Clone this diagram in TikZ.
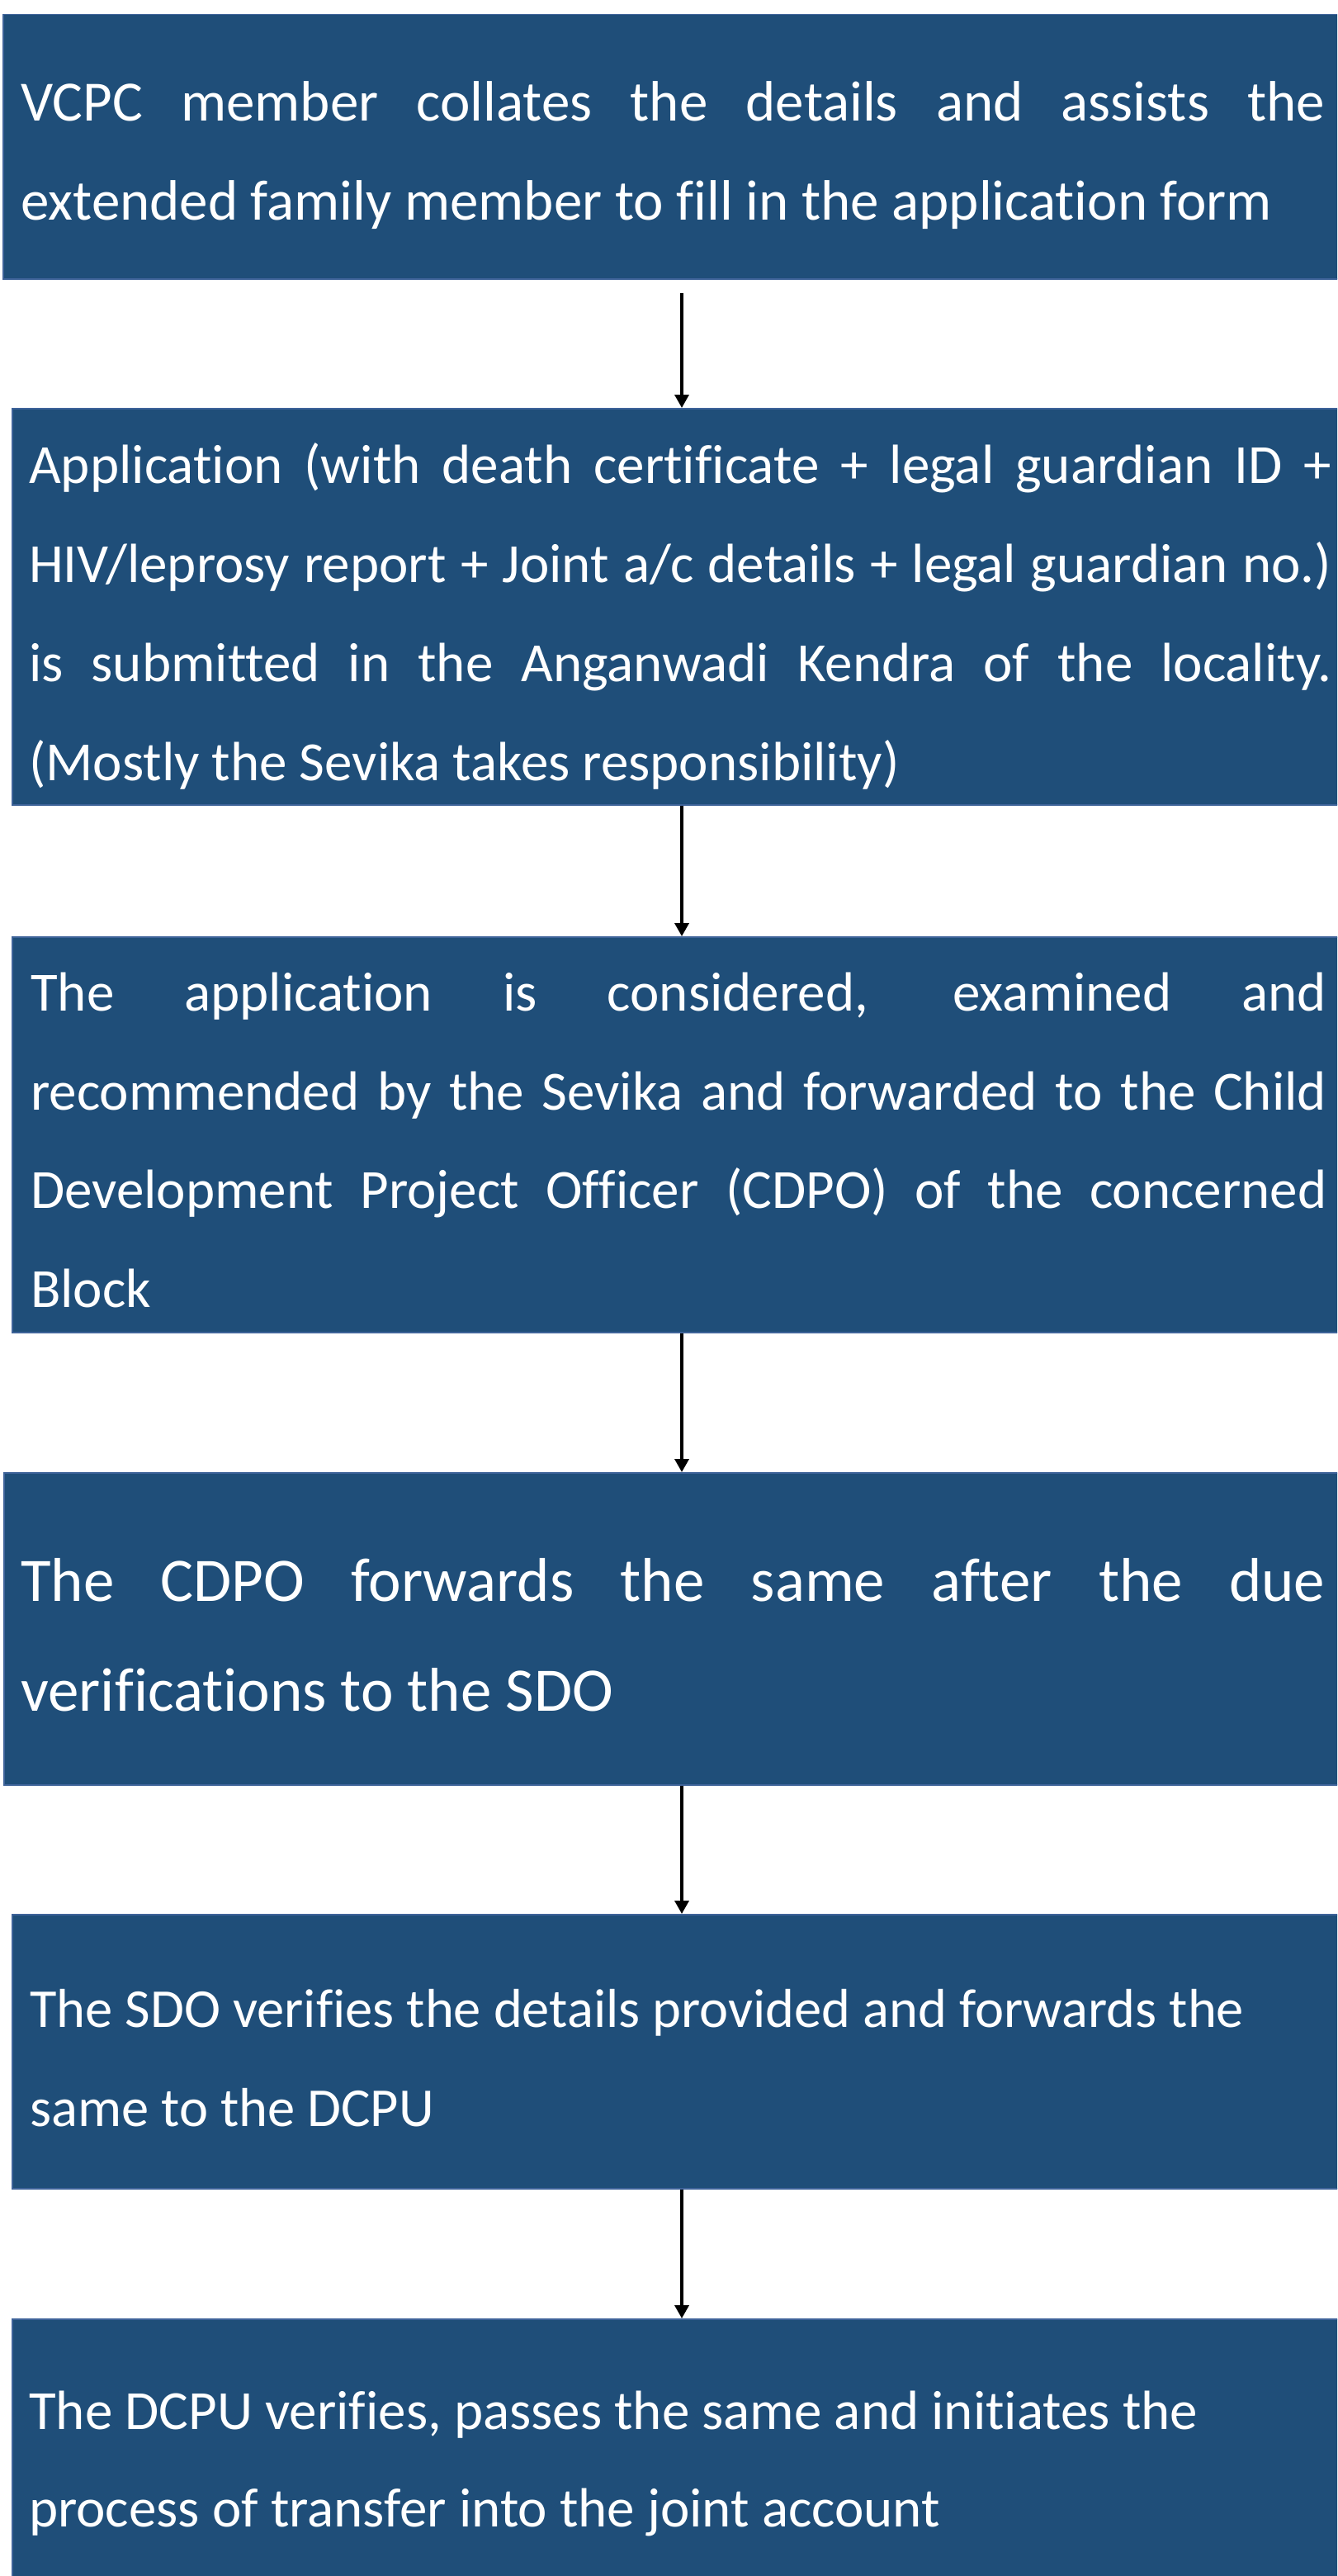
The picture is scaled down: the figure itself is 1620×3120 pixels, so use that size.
\documentclass[tikz,border=0pt]{standalone}
\usepackage{fontspec}
\setmainfont{Carlito}[Ligatures=NoCommon]
\usetikzlibrary{arrows.meta}

\definecolor{boxblue}{HTML}{1F4E79}
\definecolor{boxedge}{HTML}{3E6399}

\tikzset{
  stepbox/.style={rectangle, fill=boxblue, draw=boxedge, line width=1.5pt,
    inner sep=0pt, anchor=north west},
  steptext/.style={text=white, inner sep=0pt, anchor=base west, align=left,
    font=\fontsize{68}{120}\selectfont},
  bigtext/.style={steptext, font=\fontsize{75}{133}\selectfont},
  flow/.style={line width=3.5pt, -{Triangle[length=16pt,width=17pt]}}
}

% one justified line of a given width
\newcommand{\jline}[2][1580pt]{\makebox[#1][s]{#2}}

\begin{document}
\begin{tikzpicture}[x=1pt,y=-1pt]
\clip (0,0) rectangle (1620,3120);
\fill[white] (0,0) rectangle (1620,3120);

% boxes
\node[stepbox, minimum width=1622pt, minimum height=320pt] (b1) at (3,17) {};
\node[stepbox, minimum width=1622pt, minimum height=480pt] (b2) at (14,494) {};
\node[stepbox, minimum width=1622pt, minimum height=479pt] (b3) at (14,1134) {};
\node[stepbox, minimum width=1632pt, minimum height=378pt] (b4) at (4,1783) {};
\node[stepbox, minimum width=1622pt, minimum height=332pt] (b5) at (14,2318) {};
\node[stepbox, minimum width=1622pt, minimum height=340pt] (b6) at (14,2808) {};

% texts (each node sits on the baseline of its last line)
\node[steptext, font=\fontsize{69}{120}\selectfont] (t1) at (25,267) {%
  \jline{VCPC member collates the details and assists the}\\
  extended family member to fill in the application form};

\node[steptext, font=\fontsize{67}{120}\selectfont] (t2) at (35,945) {%
  \jline[1578pt]{Application (with death certificate + legal guardian ID +}\\
  \jline[1578pt]{HIV/leprosy report + Joint a/c details + legal guardian no.)}\\
  \jline[1578pt]{is submitted in the Anganwadi Kendra of the locality.}\\
  (Mostly the Sevika takes responsibility)};

\node[steptext, font=\fontsize{67}{119.5}\selectfont] (t3) at (37,1583) {%
  \jline[1570pt]{The application is considered, examined and}\\
  \jline[1570pt]{recommended by the Sevika and forwarded to the Child}\\
  \jline[1570pt]{Development Project Officer (CDPO) of the concerned}\\
  Block};

\node[bigtext] (t4) at (25,2072) {%
  \jline[1580pt]{The CDPO forwards the same after the due}\\
  verifications to the SDO};

\node[steptext, font=\fontsize{66.5}{120}\selectfont] (t5) at (36,2575) {%
  The SDO verifies the details provided and forwards the\\
  same to the DCPU};

\node[steptext, font=\fontsize{67}{118}\selectfont] (t6) at (35,3060) {%
  The DCPU verifies, passes the same and initiates the\\
  process of transfer into the joint account};

% connectors
\coordinate (ax) at (826,0);
\draw[flow, shorten <=16pt] (b1.south -| ax) -- (b2.north -| ax);
\draw[flow] (b2.south -| ax) -- (b3.north -| ax);
\draw[flow] (b3.south -| ax) -- (b4.north -| ax);
\draw[flow] (b4.south -| ax) -- (b5.north -| ax);
\draw[flow] (b5.south -| ax) -- (b6.north -| ax);
\end{tikzpicture}
\end{document}
